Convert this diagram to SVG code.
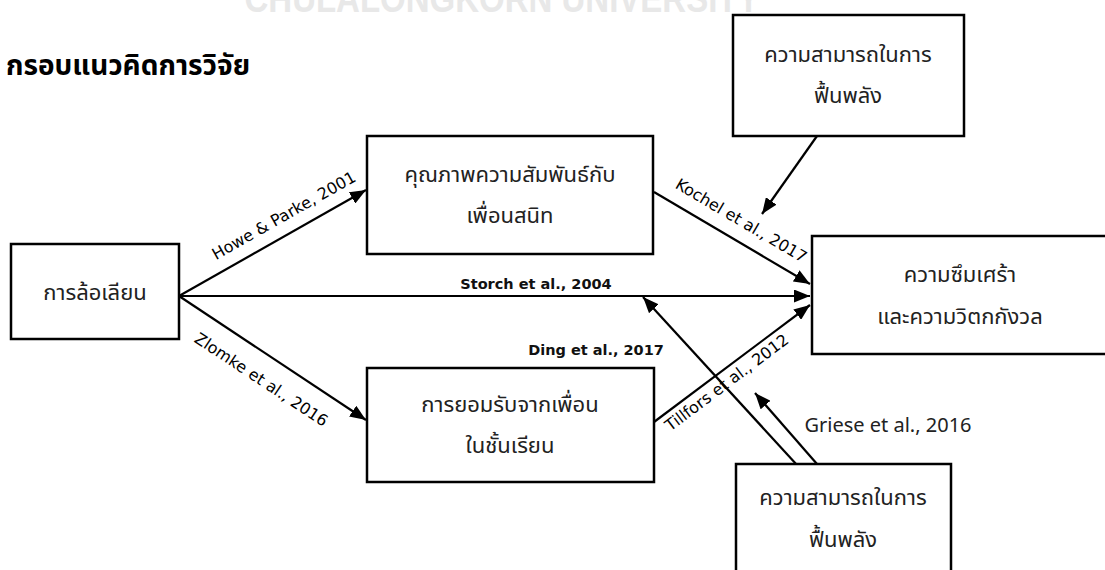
<svg xmlns="http://www.w3.org/2000/svg" width="1105" height="570" viewBox="0 0 1105 570">
<defs>
<marker id="ah" viewBox="0 0 16 13" refX="16" refY="6.5" markerWidth="16" markerHeight="13" markerUnits="userSpaceOnUse" orient="auto">
<path d="M0,0 L16,6.5 L0,13 Z" fill="#000"/>
</marker>
<style>
.box{fill:#fff;stroke:#000;stroke-width:2.5}
.th{font-family:"Noto Sans Thai","Noto Sans","DejaVu Sans",sans-serif;font-size:22px;fill:#222;text-anchor:middle}
.lbl{font-family:"DejaVu Sans",sans-serif;font-size:16px;fill:#000;text-anchor:middle}
.lblb{font-family:"DejaVu Sans",sans-serif;font-size:14.5px;font-weight:bold;fill:#111;text-anchor:middle}
.con{stroke:#000;stroke-width:2.2;fill:none;marker-end:url(#ah)}
</style>
</defs>
<rect width="1105" height="570" fill="#fff"/>
<text x="502" y="12" font-family="Liberation Sans,sans-serif" font-weight="bold" font-size="38" fill="#e8e8e8" text-anchor="middle" textLength="515" lengthAdjust="spacingAndGlyphs">CHULALONGKORN UNIVERSITY</text>
<text id="title" x="6" y="75" font-family="Noto Sans Thai,Noto Sans,sans-serif" font-weight="bold" font-size="28" fill="#000">กรอบแนวคิดการวิจัย</text>

<g id="connectors">
<line class="con" x1="179" y1="296" x2="366" y2="190"/>
<line class="con" x1="179" y1="296" x2="810" y2="296"/>
<line class="con" x1="179" y1="296" x2="366" y2="420"/>
<line class="con" x1="654" y1="192" x2="810" y2="284"/>
<line class="con" x1="654" y1="422" x2="810" y2="305"/>
<line class="con" x1="817" y1="136" x2="762" y2="214"/>
<line class="con" x1="797" y1="465" x2="643" y2="297"/>
<line class="con" x1="817" y1="464" x2="755" y2="393"/>
<text class="lbl" transform="translate(284,216) rotate(-29.5)" y="5">Howe &amp; Parke, 2001</text>
<text class="lbl" transform="translate(261,380) rotate(33.5)" y="5">Zlomke et al., 2016</text>
<text class="lbl" transform="translate(741,221) rotate(30.5)" y="5">Kochel et al., 2017</text>
<text class="lbl" transform="translate(727,383) rotate(-36.9)" y="5">Tillfors et al., 2012</text>
<text class="lblb" x="536" y="289">Storch et al., 2004</text>
<text class="lblb" x="596" y="355">Ding et al., 2017</text>
<text x="888" y="432" font-family="Noto Sans,sans-serif" font-size="20" fill="#222" text-anchor="middle">Griese et al., 2016</text>
</g>

<g id="teasing">
<rect class="box" x="11" y="244" width="168" height="95"/>
<text class="th" x="95" y="300">การล้อเลียน</text>
</g>
<g id="friendship">
<rect class="box" x="367" y="136" width="286" height="118"/>
<text class="th" x="510" y="182">คุณภาพความสัมพันธ์กับ</text>
<text class="th" x="510" y="223">เพื่อนสนิท</text>
</g>
<g id="acceptance">
<rect class="box" x="367" y="368" width="287" height="114"/>
<text class="th" x="510" y="412">การยอมรับจากเพื่อน</text>
<text class="th" x="510" y="453">ในชั้นเรียน</text>
</g>
<g id="outcome">
<rect class="box" x="812" y="236" width="296" height="118"/>
<text class="th" x="960" y="282">ความซึมเศร้า</text>
<text class="th" x="960" y="324">และความวิตกกังวล</text>
</g>
<g id="resilience-top">
<rect class="box" x="733" y="15" width="231" height="121"/>
<text class="th" x="848" y="62">ความสามารถในการ</text>
<text class="th" x="848" y="103">ฟื้นพลัง</text>
</g>
<g id="resilience-bottom">
<rect class="box" x="736" y="464" width="215" height="121"/>
<text class="th" x="843" y="505">ความสามารถในการ</text>
<text class="th" x="843" y="547">ฟื้นพลัง</text>
</g>
</svg>
